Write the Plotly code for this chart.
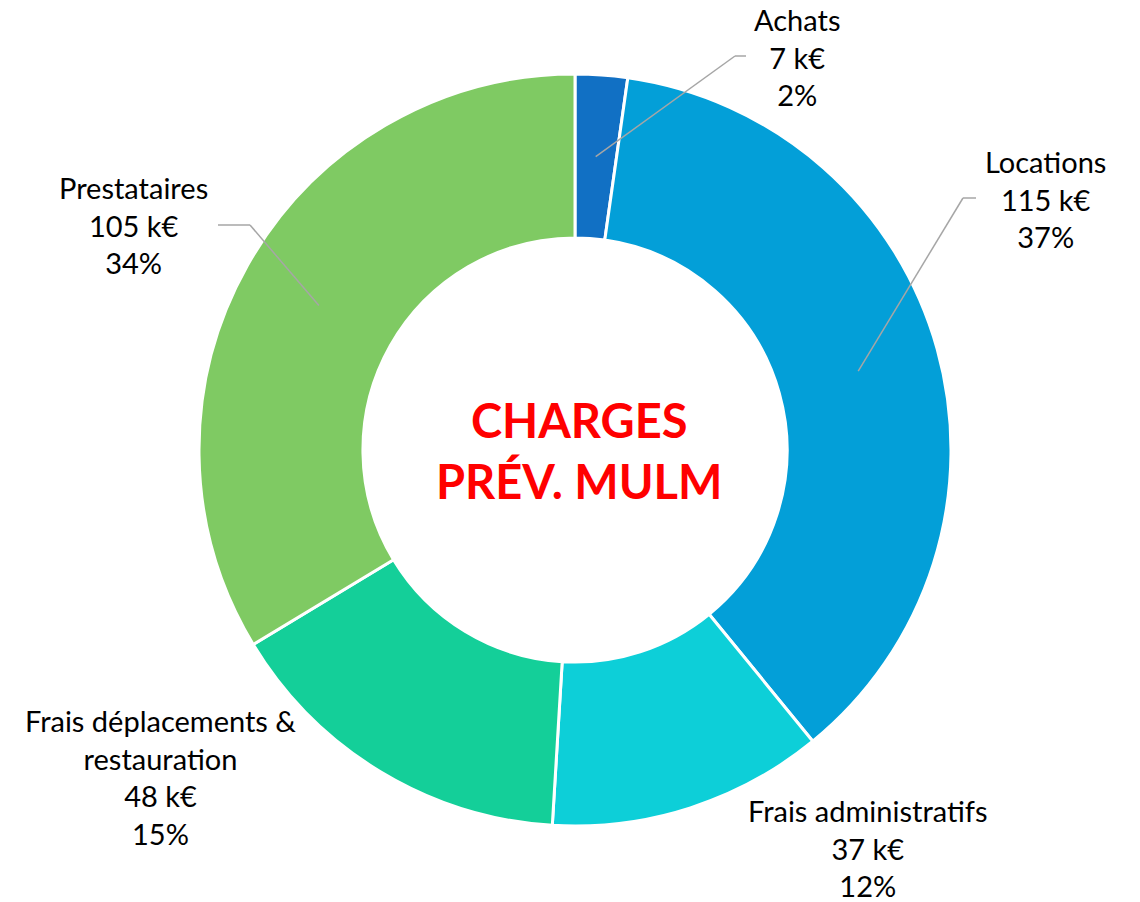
import math
import plotly.graph_objects as go

# ---- data ----
categories = ["Achats", "Locations", "Frais administratifs",
              "Frais déplacements &<br>restauration", "Prestataires"]
values_k = [7, 115, 37, 48, 105]
colors = ["#1170C4", "#039FD8", "#0DCFD8", "#14CF99", "#7FCA63"]
center_title = "CHARGES<br>PRÉV. MULM"

# ---- layout (pixels) ----
W, H = 1140, 902
CX, CY, R = 575, 450, 376
HOLE = 0.564
# label block centres and leader-line elbows (pixel coords)
label_pos = [(797, 57), (1045, 199), (868, 848), (160, 777), (133, 225)]
elbows = [[(735, 56), (746, 56)], [(963, 198), (976, 198)], None, None,
          [(250, 225), (218, 225)]]

def px(x):
    return x / W

def py(y):
    return 1 - y / H

total = sum(values_k)
pcts = [round(v / total * 100) for v in values_k]

fig = go.Figure(go.Pie(
    labels=categories,
    values=values_k,
    hole=HOLE,
    sort=False,
    direction="clockwise",
    rotation=0,
    marker=dict(colors=colors, line=dict(color="white", width=3)),
    textinfo="none",
    hoverinfo="label+value+percent",
    showlegend=False,
    domain=dict(x=[px(CX - R), px(CX + R)], y=[py(CY + R), py(CY - R)]),
))

annotations = []
shapes = []
cum = 0
r_mid = R * (1 + HOLE) / 2
for cat, v, p, (lx, ly), elb in zip(categories, values_k, pcts, label_pos, elbows):
    theta = math.radians((cum + v / 2) / total * 360)
    cum += v
    annotations.append(dict(
        x=px(lx), y=py(ly), xref="paper", yref="paper",
        text=f"{cat}<br>{v} k€<br>{p}%", showarrow=False,
        xanchor="center", yanchor="middle", align="center",
        font=dict(family="Lato", size=29, color="#000000"),
    ))
    if elb:
        sx = CX + r_mid * math.sin(theta)
        sy = CY - r_mid * math.cos(theta)
        pts = [(sx, sy)] + elb
        for (x0, y0), (x1, y1) in zip(pts[:-1], pts[1:]):
            shapes.append(dict(type="line", xref="paper", yref="paper",
                               x0=px(x0), y0=py(y0), x1=px(x1), y1=py(y1),
                               line=dict(color="#A6A6A6", width=1.5)))

annotations.append(dict(
    x=px(CX + 4), y=py(CY), xref="paper", yref="paper",
    text=f"<b>{center_title}</b>", showarrow=False,
    xanchor="center", yanchor="middle", align="center",
    font=dict(family="Lato", size=47, color="#FF0000"),
))

fig.update_layout(
    width=W, height=H,
    margin=dict(l=0, r=0, t=0, b=0),
    paper_bgcolor="white", plot_bgcolor="white",
    annotations=annotations, shapes=shapes,
)

fig.write_html("out.html",
               config={"displayModeBar": False},
               post_script="document.body.style.margin='0px';document.body.style.overflow='hidden';")
